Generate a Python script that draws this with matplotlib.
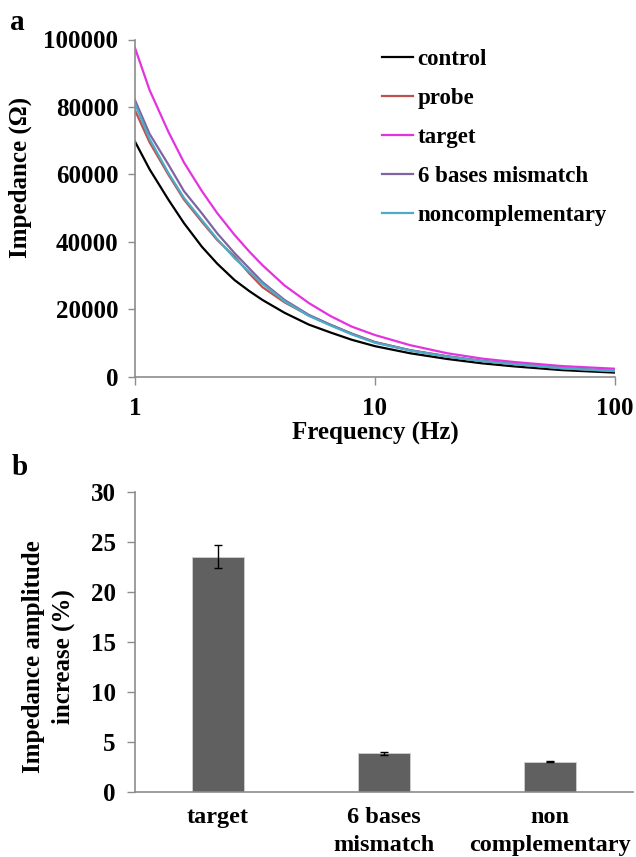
import numpy as np
import matplotlib
matplotlib.use("Agg")
import matplotlib.pyplot as plt

plt.rcParams['font.family'] = ['Liberation Serif', 'DejaVu Serif']
plt.rcParams['font.weight'] = 'bold'
plt.rcParams['axes.labelweight'] = 'bold'

# panel a: impedance spectra
freq = [1, 1.15, 1.38, 1.6, 1.9, 2.2, 2.6, 3.0, 3.4, 4.2, 5.3, 6.5, 8, 10, 14, 20, 28, 38, 60, 100]
control = [69700, 61500, 52400, 45500, 38500, 33500, 28600, 25300, 22700, 18900,
           15400, 13100, 10900, 9000, 6900, 5200, 3900, 3000, 1900, 1150]
probe = [79000, 69500, 59800, 52500, 45900, 40500, 35600, 30500, 26500, 22000,
         18100, 15400, 12700, 10200, 7800, 6000, 4600, 3700, 2450, 1600]
target = [97500, 85000, 72500, 63500, 55000, 48500, 42000, 37000, 33000, 27000,
          21800, 18000, 14800, 12300, 9300, 6900, 5300, 4300, 3100, 2300]
mismatch = [82000, 72000, 62800, 55000, 48400, 42500, 36600, 32000, 28000, 22700,
            18300, 15400, 12700, 10200, 7800, 6000, 4600, 3700, 2500, 1650]
noncomp = [81000, 70500, 60300, 53000, 46400, 40800, 35100, 31000, 27500, 22300,
           18000, 15200, 12500, 10000, 7700, 5900, 4550, 3650, 2450, 1600]

series_names = ['control', 'probe', 'target', '6 bases mismatch', 'noncomplementary']
series_colors = ['#000000', '#C0504D', '#E333E0', '#8064A2', '#4BACC6']

# panel b: amplitude increase
categories = ['target', '6 bases\nmismatch', 'non\ncomplementary']
increase = [23.5, 3.83, 3.02]
increase_err = [1.15, 0.15, 0.08]

axis_gray = '#8C8C8C'

fig = plt.figure(figsize=(6.36, 8.57), dpi=100)
W, H = 636.0, 857.0

# ---- panel a ----
ax1 = fig.add_axes([135 / W, 1 - 376.5 / H, 480 / W, (376.5 - 39.5) / H])
for vals, name, col in zip([control, probe, target, mismatch, noncomp], series_names, series_colors):
    ax1.plot(freq, vals, color=col, lw=1.6, label=name)
ax1.set_xscale('log')
ax1.set_xlim(1, 100)
ax1.set_ylim(0, 100000)
ax1.set_xticks([1, 10, 100])
ax1.set_xticklabels(['1', '10', '100'])
ax1.xaxis.set_minor_locator(matplotlib.ticker.NullLocator())
ax1.set_yticks(np.arange(0, 100001, 20000))
ax1.tick_params(axis='x', length=6, width=1, color=axis_gray, pad=9, labelsize=18)
ax1.tick_params(axis='y', length=5, width=1, color=axis_gray, pad=7, labelsize=18)
for s in ['top', 'right']:
    ax1.spines[s].set_visible(False)
for s in ['left', 'bottom']:
    ax1.spines[s].set_color(axis_gray)
    ax1.spines[s].set_linewidth(1.2)
ax1.set_xlabel('Frequency (Hz)', fontsize=18, labelpad=1)
ax1.set_ylabel('Impedance (Ω)', fontsize=18)
ax1.yaxis.set_label_coords(-0.215, 0.59)

ax1.legend(loc='upper left', bbox_to_anchor=(382 / W, 1 - 49 / H), bbox_transform=fig.transFigure,
           frameon=False, fontsize=16.5, handlelength=1.35, handletextpad=0.2,
           labelspacing=0.78, borderpad=0, borderaxespad=0)

# ---- panel b ----
ax2 = fig.add_axes([135 / W, 1 - 791.7 / H, 498 / W, 300 / H])
xpos = np.arange(len(categories))
ax2.bar(xpos, increase, width=0.31, color='#606060', edgecolor='#D0D0D0', linewidth=0.6,
        yerr=increase_err, error_kw=dict(ecolor='black', elinewidth=1, capsize=3, capthick=1))
ax2.set_xlim(-0.5, 2.5)
ax2.set_ylim(0, 30)
ax2.set_yticks(np.arange(0, 31, 5))
ax2.set_xticks(xpos)
ax2.set_xticklabels(categories, fontsize=17.5, linespacing=1.45)
ax2.tick_params(axis='x', length=0, pad=11)
ax2.tick_params(axis='y', length=6, width=1, color=axis_gray, pad=8, labelsize=18)
for s in ['top', 'right']:
    ax2.spines[s].set_visible(False)
for s in ['left', 'bottom']:
    ax2.spines[s].set_color(axis_gray)
    ax2.spines[s].set_linewidth(1.2)
ax2.set_ylabel('Impedance amplitude\nincrease (%)', fontsize=18, linespacing=1.4)
ax2.yaxis.set_label_coords(-0.12, 0.45)

fig.text(10 / W, 1 - 30 / H, 'a', fontsize=21, fontweight='bold')
fig.text(12 / W, 1 - 475 / H, 'b', fontsize=21, fontweight='bold')

fig.savefig('out.png', dpi=100)
